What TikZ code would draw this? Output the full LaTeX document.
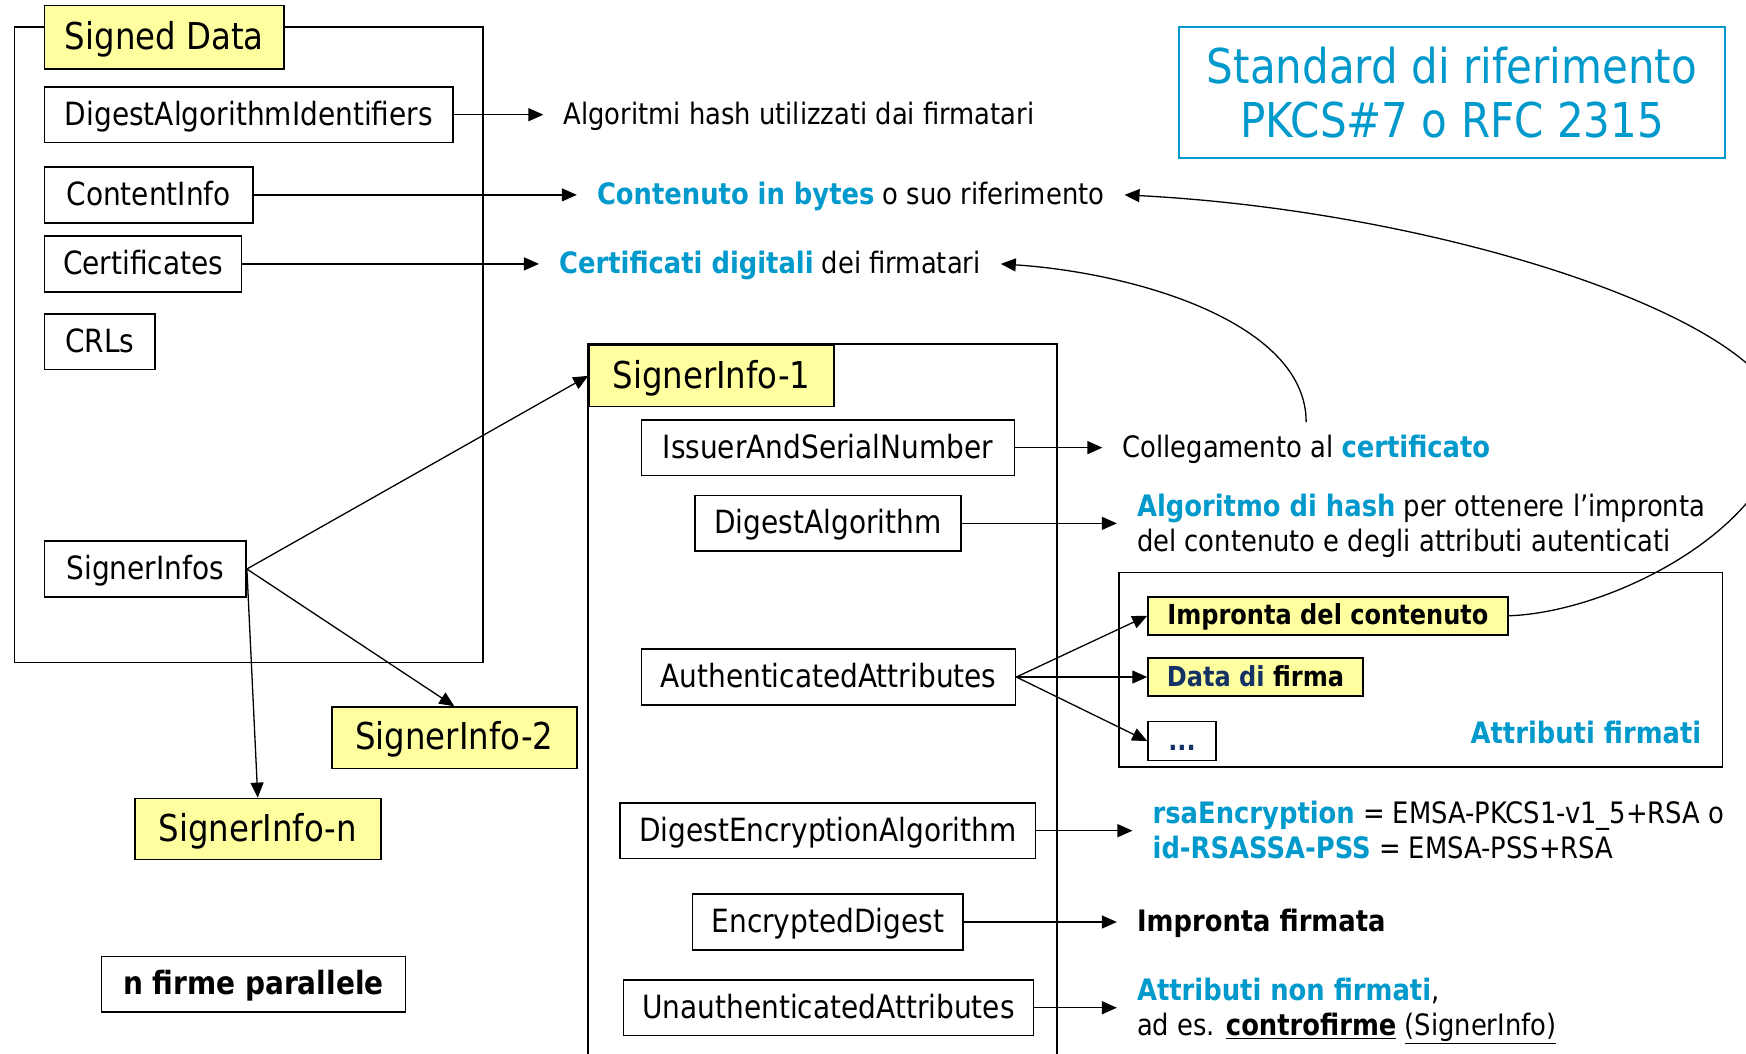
\documentclass[tikz,border=0pt]{standalone}
\usepackage{fontspec}
\setmainfont{DejaVu Sans}[FakeStretch=0.875]
\usetikzlibrary{arrows.meta}
\definecolor{cy}{RGB}{0,153,204}
\definecolor{yel}{RGB}{255,255,160}
\definecolor{navy}{RGB}{20,50,100}
\newcommand{\mkbox}[7]{%
  \pgfmathsetmacro{\mybw}{(#5-#3)*1.1135}%
  \pgfmathsetmacro{\mybh}{(#6-#4)*1.1135}%
  \node[#1, minimum width=\mybw pt, minimum height=\mybh pt] (#2) at ({(#3+#5)/2},{(#4+#6)/2}) {#7};}
\tikzset{
  frame/.style={draw, line width=1.6pt, inner sep=0pt},
  boxn/.style={draw, fill=white, line width=1.6pt, inner sep=0pt, text height=24.3pt, text depth=3.1pt, font=\fontsize{32}{38}\selectfont},
  boldbox/.style={boxn, font=\fontsize{32}{38}\selectfont\bfseries},
  lbl/.style={draw, fill=yel, line width=1.6pt, inner sep=0pt, text height=28.1pt, text depth=3.7pt, font=\fontsize{37}{44}\selectfont},
  smallbox/.style={draw, fill=yel, line width=1.6pt, inner sep=0pt, text height=20.9pt, text depth=2.8pt, font=\fontsize{27.5}{33}\selectfont\bfseries},
  smallw/.style={smallbox, fill=white},
  stdbox/.style={draw=cy, line width=1.6pt, inner sep=0pt, align=center, text=cy, font=\fontsize{48}{54.6}\selectfont},
  desc/.style={anchor=west, inner xsep=20pt, inner ysep=0pt, text height=22.4pt, text depth=2.9pt, font=\fontsize{29.5}{35}\selectfont},
  descm/.style={anchor=west, inner xsep=20pt, inner ysep=0pt, align=left, text depth=1pt, font=\fontsize{29.5}{35}\selectfont},
  arr/.style={-{Triangle[length=15pt,width=13pt]}, line width=1.3pt},
}
\begin{document}
\begin{tikzpicture}[x=1.1135pt, y=-1.1135pt]
\fill[white] (0,0) rectangle (1568,946);
\useasboundingbox (0,0) rectangle (1568,946);

% Signed Data group
\mkbox{frame}{sdouter}{13}{24}{434}{595}{}
\mkbox{lbl}{sd}{40}{5}{255}{62}{Signed Data}
\mkbox{boxn}{dai}{40}{78}{407}{128}{DigestAlgorithmIdentifiers}
\mkbox{boxn}{ci}{40}{150}{227}{200}{ContentInfo}
\mkbox{boxn}{cert}{40}{212}{217}{262}{Certificates}
\mkbox{boxn}{crl}{40}{282}{139}{332}{CRLs}
\mkbox{boxn}{sinfos}{40}{486}{221}{536}{SignerInfos}
\mkbox{lbl}{si2}{298}{635}{518}{690}{SignerInfo-2}
\mkbox{lbl}{sin}{121}{717}{342}{772}{SignerInfo-n}
\mkbox{boldbox}{nfp}{91}{859}{364}{909}{n firme parallele}

% SignerInfo-1 group
\draw[line width=1.6pt] (528,952) -- (528,309) -- (949,309) -- (949,952);
\mkbox{lbl}{si1}{529}{310}{749}{365}{SignerInfo-1}
\mkbox{boxn}{isn}{576}{377}{911}{427}{IssuerAndSerialNumber}
\mkbox{boxn}{da}{624}{445}{863}{495}{DigestAlgorithm}
\mkbox{boxn}{aa}{576}{583}{912}{633}{AuthenticatedAttributes}
\mkbox{boxn}{dea}{557}{721}{930}{771}{DigestEncryptionAlgorithm}
\mkbox{boxn}{ed}{622}{803}{865}{853}{EncryptedDigest}
\mkbox{boxn}{ua}{560}{880}{928}{930}{UnauthenticatedAttributes}

% Attributi firmati
\mkbox{frame}{attrbox}{1005}{514}{1547}{689}{}
\mkbox{smallbox}{impr}{1031}{536}{1354}{570}{Impronta del contenuto}
\mkbox{smallbox}{data}{1031}{591}{1224}{625}{\textcolor{navy}{Data di} firma}
\mkbox{smallw}{dots}{1031}{648}{1092}{683}{\textcolor{navy}{...}}
\node[anchor=east, inner sep=0pt, text height=22.4pt, text depth=2.9pt, text=cy, font=\fontsize{29.5}{35}\selectfont\bfseries] (attrt) at (1528,659) {Attributi firmati};

% Standard box
\mkbox{stdbox}{std}{1059}{24}{1549}{142}{Standard di riferimento\\PKCS\#7 o RFC 2315}

% descriptions
\node[desc] (algt) at (488,103) {Algoritmi hash utilizzati dai firmatari};
\node[desc] (cont) at (518,175) {\textcolor{cy}{\textbf{Contenuto in bytes}} o suo riferimento};
\node[desc] (certt) at (484,237) {\textcolor{cy}{\textbf{Certificati digitali}} dei firmatari};
\node[desc] (coll) at (990,402) {Collegamento al \textcolor{cy}{\textbf{certificato}}};
\node[descm] (dat) at (1003,470) {\textcolor{cy}{\textbf{Algoritmo di hash}} per ottenere l’impronta\\del contenuto e degli attributi autenticati};
\node[descm] (deat) at (1017,746) {\textcolor{cy}{\textbf{rsaEncryption}} = EMSA-PKCS1-v1\_5+RSA o\\\textcolor{cy}{\textbf{id-RSASSA-PSS}} = EMSA-PSS+RSA};
\node[desc] (edt) at (1003,828) {\textbf{Impronta firmata}};
\node[descm] (uat) at (1003,905) {\textcolor{cy}{\textbf{Attributi non firmati}},\\ad es. \underline{\textbf{controfirme}} \underline{(SignerInfo)}};

% connectors
\draw[arr] (dai.east) -- (algt.west);
\draw[arr] (ci.east) -- (cont.west);
\draw[arr] (cert.east) -- (certt.west);
\draw[arr] (sinfos.east) -- (si1.west);
\draw[arr] (sinfos.east) -- (si2.north);
\draw[arr] (sinfos.east) -- (sin.north);
\draw[arr] (isn.east) -- (coll.west);
\draw[arr] (da.east) -- (dat.west);
\draw[arr] (aa.east) -- (impr.west);
\draw[arr] (aa.east) -- (data.west);
\draw[arr] (aa.east) -- (dots.west);
\draw[arr] (dea.east) -- (deat.west);
\draw[arr] (ed.east) -- (edt.west);
\draw[arr] (ua.east) -- (uat.west);

\coordinate (bend) at (1600,378);
\draw[arr] (impr.east) .. controls (1450,550) and (1600,470) .. (bend) .. controls (1600,290) and (1300,190) .. (cont.east);
\coordinate (certsrc) at (1173,379);
\draw[arr] (certsrc) .. controls (1173,290) and (1020,245) .. (certt.east);
\end{tikzpicture}
\end{document}
